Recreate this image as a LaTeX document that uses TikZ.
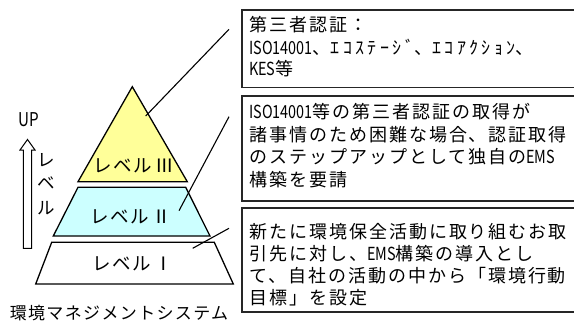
\documentclass[tikz,border=0pt]{standalone}
\usepackage{fontspec}
\setmainfont{Noto Sans CJK JP}
\newfontfamily\jpfont[LetterSpace=11]{Noto Sans CJK JP}
\newfontfamily\jpwide[LetterSpace=8]{Noto Sans CJK JP}
\newfontfamily\kanafont[LetterSpace=19]{Noto Sans CJK JP}
\newfontfamily\latfont[FakeStretch=0.8]{Noto Sans CJK JP}
\newcommand\lat[1]{{\latfont #1}}
\newcommand\hkana[1]{{\kanafont #1}}
\definecolor{lvthree}{HTML}{FFFF99}
\definecolor{lvtwo}{HTML}{CCFFFF}
\begin{document}
\begin{tikzpicture}[x=1pt,y=-1pt,
  boxline/.style={draw=black!85,line width=1.4pt},
  tier/.style={draw=black,line width=1.3pt,line join=miter},
  leader/.style={draw=black,line width=1.1pt},
  txt/.style={inner sep=0pt,anchor=west,font=\jpfont\fontsize{18}{22}\selectfont},
  lvl/.style={inner sep=0pt,font=\jpwide\fontsize{18.5}{22}\selectfont},
  vtxt/.style={inner sep=0pt,font=\jpfont\fontsize{17.5}{20}\selectfont}]
\useasboundingbox (0,0) rectangle (574,322);
% boxes (right side runs past the page edge)
\draw[boxline] (242,10) rectangle (580,87.5);
\draw[boxline] (242,96) rectangle (580,201);
\draw[boxline] (242,208) rectangle (580,312);
% box texts
\node[txt] (a1) at (249,25) {第三者認証：};
\node[txt] (a2) at (249,47) {\lat{ISO14001}、\hkana{ｴｺｽﾃｰｼﾞ}、\hkana{ｴｺｱｸｼｮﾝ}、};
\node[txt] (a3) at (249,69) {\lat{KES}等};
\node[txt] (b1) at (249,112) {\lat{ISO14001}等の第三者認証の取得が};
\node[txt] (b2) at (249,134.5) {諸事情のため困難な場合、認証取得};
\node[txt] (b3) at (249,157) {のステップアップとして独自の\lat{EMS}};
\node[txt] (b4) at (249,179.5) {構築を要請};
\node[txt] (c1) at (249,231.5) {新たに環境保全活動に取り組むお取};
\node[txt] (c2) at (249,253.5) {引先に対し、\lat{EMS}構築の導入とし};
\node[txt] (c3) at (249,275.5) {て、自社の活動の中から「環境行動};
\node[txt] (c4) at (249,297.5) {目標」を設定};
% pyramid tiers
\draw[tier,fill=lvthree] (132.3,86.7) -- (187.3,181.7) -- (78,181.7) -- cycle;
\draw[tier,fill=lvtwo] (78,187.3) -- (185.7,187.3) -- (210,236) -- (53.3,236) -- cycle;
\draw[tier,fill=white] (51.7,242.3) -- (214.3,242.3) -- (233.3,284) -- (35.7,284) -- cycle;
\node[lvl] (t3) at (134,166) {レベル\,Ⅲ};
\node[lvl] (t2) at (131,217) {レベル\,Ⅱ};
\node[lvl] (t1) at (133,264) {レベル\,Ⅰ};
% leader lines
\coordinate (p1) at (229,29.3);
\coordinate (q1) at (145.7,116);
\coordinate (p2) at (229,116.7);
\coordinate (q2) at (179,210.7);
\coordinate (p3) at (229,228.3);
\coordinate (q3) at (192.7,248.3);
\draw[leader] (p1) -- (q1);
\draw[leader] (p2) -- (q2);
\draw[leader] (p3) -- (q3);
% level-up arrow
\draw[line width=1pt,fill=white,line join=miter] (23.3,248.3) -- (23.3,150) -- (20,150) -- (27.5,139.5) -- (35,150) -- (31.7,150) -- (31.7,248.3) -- cycle;
\node[inner sep=0pt,font=\latfont\fontsize{19}{20}\selectfont] (up) at (29,120) {UP};
\node[vtxt] (v1) at (46.5,160) {レ};
\node[vtxt] (v2) at (46.5,183) {ベ};
\node[vtxt] (v3) at (46.5,208) {ル};
% caption
\node[inner sep=0pt,font=\jpwide\fontsize{17}{20}\selectfont] (cap) at (119,313) {環境マネジメントシステム};
\end{tikzpicture}
\end{document}
